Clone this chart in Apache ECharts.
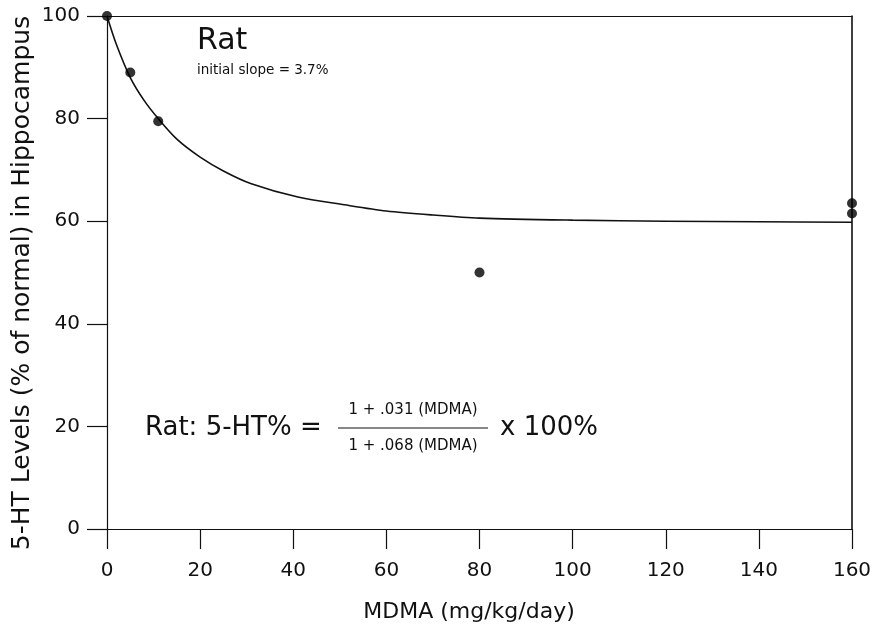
<!DOCTYPE html>
<html>
<head>
<meta charset="utf-8">
<script src="https://cdn.jsdelivr.net/npm/echarts@6/dist/echarts.min.js"></script>
<style>
html,body{margin:0;padding:0;background:#fff;}
#chart{width:875px;height:630px;}
</style>
</head>
<body>
<div id="chart"></div>
<script>
// Observed data points (MDMA dose, 5-HT % of normal)
var pointDose = [0, 5, 11, 80, 160, 160];
var pointLevel = [100, 89, 79.5, 50, 63.5, 61.5];

// Fitted curve
var curveDose = [0, 2, 5, 8, 11, 15, 20, 25, 31, 41, 51, 60, 70, 80, 100, 120, 140, 160];
var curveLevel = [100, 94.5, 88, 83.5, 80, 76, 72.5, 69.8, 67.3, 64.7, 63.2, 62, 61.2, 60.6, 60.2, 60, 59.9, 59.8];

var xTicks = [0, 20, 40, 60, 80, 100, 120, 140, 160];
var yTicks = [0, 20, 40, 60, 80, 100];

var xTitle = 'MDMA (mg/kg/day)';
var yTitle = '5-HT Levels (% of normal) in Hippocampus';

var FONT = 'DejaVu Sans';
var INK = '#111';

var chart = echarts.init(document.getElementById('chart'));

var pts = pointDose.map(function (d, i) { return [d, pointLevel[i]]; });
var curve = curveDose.map(function (d, i) { return [d, curveLevel[i]]; });

chart.setOption({
  backgroundColor: '#fff',
  animation: false,
  grid: { left: 107, right: 23, top: 16, bottom: 101 },
  xAxis: [{
    type: 'value', min: xTicks[0], max: xTicks[xTicks.length - 1], interval: 20,
    axisLine: { onZero: false, lineStyle: { color: INK, width: 1.2 } },
    axisTick: { length: 20, lineStyle: { color: INK, width: 1.2 } },
    axisLabel: { margin: 32, fontFamily: FONT, fontSize: 20, color: INK },
    splitLine: { show: false }
  }, {
    type: 'value', min: 0, max: 160, position: 'top',
    axisLine: { show: true, onZero: false, lineStyle: { color: INK, width: 1.2 } },
    axisTick: { show: false }, axisLabel: { show: false }, splitLine: { show: false }
  }],
  yAxis: [{
    type: 'value', min: yTicks[0], max: yTicks[yTicks.length - 1], interval: 20,
    axisLine: { show: true, onZero: false, lineStyle: { color: INK, width: 1.2 } },
    axisTick: { show: true, length: 20, lineStyle: { color: INK, width: 1.2 } },
    axisLabel: { margin: 27, fontFamily: FONT, fontSize: 20, color: INK },
    splitLine: { show: false }
  }, {
    type: 'value', min: 0, max: 100, position: 'right',
    axisLine: { show: true, onZero: false, lineStyle: { color: INK, width: 1.6 } },
    axisTick: { show: false }, axisLabel: { show: false }, splitLine: { show: false }
  }],
  series: [{
    type: 'line', data: curve, smooth: 0.3, showSymbol: false, symbol: 'none',
    lineStyle: { color: INK, width: 1.6 }, z: 3
  }, {
    type: 'scatter', data: pts, symbol: 'circle', symbolSize: 10,
    itemStyle: { color: '#000' }, z: 4
  }],
  graphic: [
    { type: 'text', x: 22, y: 283, rotation: Math.PI / 2, style: { text: yTitle, font: '25px "DejaVu Sans"', fill: INK, textAlign: 'center', textVerticalAlign: 'middle' } },
    { type: 'text', x: 469, y: 612, style: { text: xTitle, font: '22px "DejaVu Sans"', fill: INK, textAlign: 'center', textVerticalAlign: 'middle' } },
    { type: 'text', left: 197, top: 26, style: { text: 'Rat', font: '30px "DejaVu Sans"', fill: INK } },
    { type: 'text', left: 197, top: 63, style: { text: 'initial slope = 3.7%', font: '13.5px "DejaVu Sans"', fill: INK } },
    { type: 'text', x: 145, y: 428, style: { text: 'Rat: 5-HT% =', font: '26px "DejaVu Sans"', fill: INK, textVerticalAlign: 'middle' } },
    { type: 'text', x: 413, y: 410, style: { text: '1 + .031 (MDMA)', font: '15px "DejaVu Sans"', fill: INK, textAlign: 'center', textVerticalAlign: 'middle' } },
    { type: 'line', shape: { x1: 338, y1: 428, x2: 488, y2: 428 }, style: { stroke: INK, lineWidth: 1.2 } },
    { type: 'text', x: 413, y: 446, style: { text: '1 + .068 (MDMA)', font: '15px "DejaVu Sans"', fill: INK, textAlign: 'center', textVerticalAlign: 'middle' } },
    { type: 'text', x: 500, y: 428, style: { text: 'x 100%', font: '26px "DejaVu Sans"', fill: INK, textVerticalAlign: 'middle' } }
  ]
});
</script>
</body>
</html>
